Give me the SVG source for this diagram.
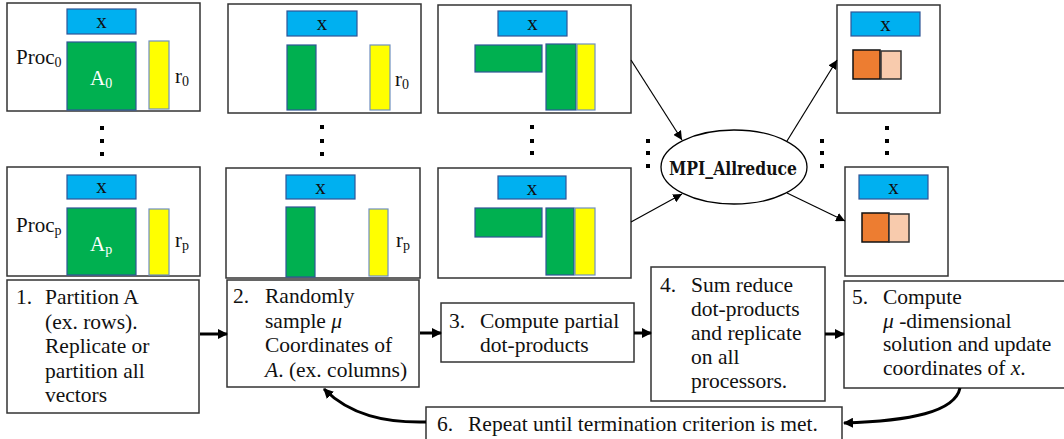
<svg xmlns="http://www.w3.org/2000/svg" width="1064" height="439" viewBox="0 0 1064 439">
<style>
.panel{fill:#fff;stroke:#333;stroke-width:1.5}
.box{fill:#fff;stroke:#333;stroke-width:1.5}
.xv{fill:#00B0F0;stroke:#2F5597;stroke-width:1.2}
.g{fill:#00B050;stroke:#2F5597;stroke-width:1.2}
.y{fill:#FFFF00;stroke:#6F8FC0;stroke-width:1.2}
.o{fill:#ED7D31;stroke:#111;stroke-width:1.5}
.lo{fill:#F8CBAD;stroke:#333;stroke-width:1.5}
.t{font-family:"Liberation Serif",serif;font-size:21.5px;fill:#111}
.lbl{font-family:"Liberation Serif",serif;font-size:21px;fill:#111}
.sub{font-size:14px}
.wt{fill:#fff}
.dot{fill:#000}
.thin{fill:none;stroke:#000;stroke-width:1.2;marker-end:url(#ah)}
.thick{fill:none;stroke:#000;stroke-width:3;marker-end:url(#ahb)}
</style>
<defs>
<marker id="ah" viewBox="0 0 10 10" refX="10" refY="5" markerWidth="9" markerHeight="9" markerUnits="userSpaceOnUse" orient="auto"><path d="M0,0 L10,5 L0,10 z" fill="#000"/></marker>
<marker id="ahb" viewBox="0 0 10 10" refX="9" refY="5" markerWidth="10" markerHeight="10" markerUnits="userSpaceOnUse" orient="auto"><path d="M0,0 L10,5 L0,10 z" fill="#000"/></marker>
</defs>

<g id="proc0-step1">
<rect class="panel" x="7" y="3" width="193" height="108"/>
<rect class="xv" x="67" y="9" width="69" height="25"/>
<text class="lbl" x="101.5" y="28" text-anchor="middle">x</text>
<rect class="g" x="67" y="42" width="69" height="68"/>
<text class="lbl wt" x="90" y="85">A<tspan class="sub" dy="3">0</tspan></text>
<rect class="y" x="149" y="41" width="20" height="68"/>
<text class="lbl" x="175" y="83">r<tspan class="sub" dy="3">0</tspan></text>
<text class="lbl" x="16" y="64">Proc<tspan class="sub" dy="3">0</tspan></text>
</g>
<g id="dots1">
<rect class="dot" x="100" y="126" width="4" height="4"/>
<rect class="dot" x="100" y="139" width="4" height="4"/>
<rect class="dot" x="100" y="152" width="4" height="4"/>
</g>
<g id="procp-step1">
<rect class="panel" x="7" y="167" width="193" height="109"/>
<rect class="xv" x="67" y="175" width="69" height="24"/>
<text class="lbl" x="101.5" y="193" text-anchor="middle">x</text>
<rect class="g" x="67" y="208" width="69" height="67"/>
<text class="lbl wt" x="90" y="251">A<tspan class="sub" dy="3">p</tspan></text>
<rect class="y" x="149" y="209" width="20" height="66"/>
<text class="lbl" x="175" y="247">r<tspan class="sub" dy="3">p</tspan></text>
<text class="lbl" x="16" y="232">Proc<tspan class="sub" dy="3">p</tspan></text>
</g>

<g id="proc0-step2">
<rect class="panel" x="228" y="4" width="193" height="109"/>
<rect class="xv" x="287" y="11" width="70" height="25"/>
<text class="lbl" x="322" y="30" text-anchor="middle">x</text>
<rect class="g" x="287" y="45" width="29" height="65"/>
<rect class="y" x="370" y="45" width="20" height="65"/>
<text class="lbl" x="395" y="86">r<tspan class="sub" dy="3">0</tspan></text>
</g>
<g id="dots2">
<rect class="dot" x="320" y="125" width="4" height="4"/>
<rect class="dot" x="320" y="139" width="4" height="4"/>
<rect class="dot" x="320" y="152" width="4" height="4"/>
</g>
<g id="procp-step2">
<rect class="panel" x="226" y="168" width="194" height="110"/>
<rect class="xv" x="286" y="175" width="69" height="24"/>
<text class="lbl" x="320.5" y="194" text-anchor="middle">x</text>
<rect class="g" x="286" y="207" width="29" height="70"/>
<rect class="y" x="369" y="209" width="19" height="67"/>
<text class="lbl" x="396" y="247">r<tspan class="sub" dy="3">p</tspan></text>
</g>

<g id="proc0-step3">
<rect class="panel" x="438" y="5" width="193" height="108"/>
<rect class="xv" x="498" y="11" width="69" height="25"/>
<text class="lbl" x="532.5" y="30" text-anchor="middle">x</text>
<rect class="g" x="475" y="45" width="67" height="27"/>
<rect class="g" x="546" y="44" width="30" height="66"/>
<rect class="y" x="577" y="44" width="18" height="66"/>
</g>
<g id="dots3">
<rect class="dot" x="530" y="125" width="4" height="4"/>
<rect class="dot" x="530" y="139" width="4" height="4"/>
<rect class="dot" x="530" y="151" width="4" height="4"/>
</g>
<g id="procp-step3">
<rect class="panel" x="438" y="168" width="193" height="110"/>
<rect class="xv" x="498" y="176" width="68" height="23"/>
<text class="lbl" x="532" y="195" text-anchor="middle">x</text>
<rect class="g" x="475" y="208" width="67" height="29"/>
<rect class="g" x="546" y="208" width="28" height="67"/>
<rect class="y" x="575" y="208" width="20" height="67"/>
</g>

<g id="dots-left">
<rect class="dot" x="646" y="139" width="4" height="4"/>
<rect class="dot" x="646" y="151" width="4" height="4"/>
<rect class="dot" x="646" y="164" width="4" height="4"/>
</g>
<g id="dots-right">
<rect class="dot" x="820" y="139" width="4" height="4"/>
<rect class="dot" x="820" y="151" width="4" height="4"/>
<rect class="dot" x="820" y="164" width="4" height="4"/>
</g>

<g id="mpi-allreduce">
<ellipse cx="734" cy="167" rx="73" ry="37" fill="#fff" stroke="#000" stroke-width="1.3"/>
<text x="733" y="175" text-anchor="middle" font-family="'DejaVu Serif',serif" font-weight="bold" font-size="19" textLength="128" lengthAdjust="spacingAndGlyphs" fill="#111">MPI_Allreduce</text>
</g>

<g id="proc0-step5">
<rect class="panel" x="837" y="5" width="103" height="108"/>
<rect class="xv" x="851" y="12" width="69" height="24"/>
<text class="lbl" x="885.5" y="31" text-anchor="middle">x</text>
<rect class="o" x="853" y="50" width="27" height="29"/>
<rect class="lo" x="881" y="51" width="20" height="28"/>
</g>
<g id="dots4">
<rect class="dot" x="885" y="126" width="4" height="4"/>
<rect class="dot" x="885" y="139" width="4" height="4"/>
<rect class="dot" x="885" y="151" width="4" height="4"/>
</g>
<g id="procp-step5">
<rect class="panel" x="845" y="167" width="103" height="109"/>
<rect class="xv" x="859" y="175" width="69" height="24"/>
<text class="lbl" x="893.5" y="194" text-anchor="middle">x</text>
<rect class="o" x="862" y="213" width="27" height="29"/>
<rect class="lo" x="889" y="214" width="20" height="28"/>
</g>

<g id="step1">
<rect class="box" x="7" y="280" width="192" height="133"/>
<text class="t" x="16" y="304">1.</text>
<text class="t"><tspan x="45" y="304">Partition A</tspan><tspan x="45" y="329">(ex. rows).</tspan><tspan x="45" y="353">Replicate or</tspan><tspan x="45" y="378">partition all</tspan><tspan x="45" y="402">vectors</tspan></text>
</g>
<g id="step2">
<rect class="box" x="227" y="280" width="192" height="107"/>
<text class="t" x="233" y="303">2.</text>
<text class="t"><tspan x="265" y="303">Randomly</tspan><tspan x="265" y="328">sample <tspan font-style="italic">μ</tspan></tspan><tspan x="265" y="352">Coordinates of</tspan><tspan x="265" y="377"><tspan font-style="italic">A</tspan>. (ex. columns)</tspan></text>
</g>
<g id="step3">
<rect class="box" x="441" y="303" width="193" height="59"/>
<text class="t" x="449" y="328">3.</text>
<text class="t"><tspan x="480" y="328">Compute partial</tspan><tspan x="480" y="352">dot-products</tspan></text>
</g>
<g id="step4">
<rect class="box" x="651" y="267" width="174" height="134"/>
<text class="t" x="660" y="292">4.</text>
<text class="t"><tspan x="691" y="292">Sum reduce</tspan><tspan x="691" y="316">dot-products</tspan><tspan x="691" y="340">and replicate</tspan><tspan x="691" y="364">on all</tspan><tspan x="691" y="388">processors.</tspan></text>
</g>
<g id="step5">
<rect class="box" x="844" y="281" width="230" height="107"/>
<text class="t" x="852" y="304">5.</text>
<text class="t"><tspan x="883" y="304">Compute</tspan><tspan x="883" y="328"><tspan font-style="italic">μ</tspan> -dimensional</tspan><tspan x="883" y="351">solution and update</tspan><tspan x="883" y="375">coordinates of <tspan font-style="italic">x</tspan>.</tspan></text>
</g>
<g id="step6">
<rect class="box" x="426" y="407" width="416" height="40"/>
<text class="t" x="437" y="431">6.</text>
<text class="t" x="468" y="431">Repeat until termination criterion is met.</text>
</g>

<g id="connectors">
<line class="thin" x1="631" y1="60" x2="682" y2="140"/>
<line class="thin" x1="631" y1="222" x2="682" y2="194"/>
<line class="thin" x1="787" y1="141" x2="837" y2="60"/>
<line class="thin" x1="787" y1="193" x2="845" y2="221"/>
<line class="thick" x1="200" y1="334" x2="227" y2="334"/>
<line class="thick" x1="420" y1="333" x2="441" y2="333"/>
<line class="thick" x1="634" y1="333" x2="651" y2="333"/>
<line class="thick" x1="825" y1="334" x2="844" y2="334"/>
<path class="thick" d="M960,388 C955,412 910,421 844,423"/>
<path class="thick" d="M426,422 C385,423 350,415 324,389"/>
</g>
</svg>
